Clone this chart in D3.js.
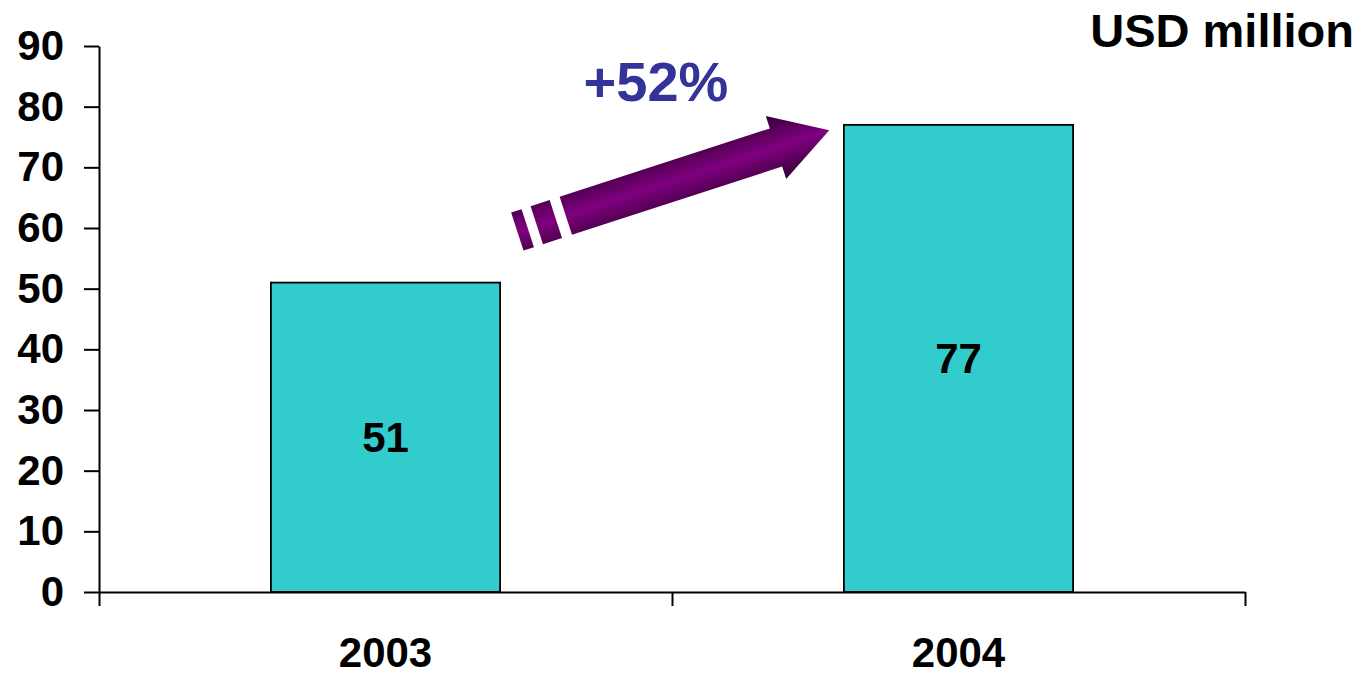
<!DOCTYPE html>
<html>
<head>
<meta charset="utf-8">
<script src="https://cdn.jsdelivr.net/npm/d3@7/dist/d3.min.js"></script>
<style>
  html, body { margin: 0; padding: 0; background: #ffffff; }
  svg { display: block; font-family: "Liberation Sans", Arial, Helvetica, sans-serif; }
</style>
</head>
<body>
<svg id="chart" width="1359" height="675"></svg>
<script>
// Revenue by year, USD million
const years = ["2003", "2004"];
const revenue = [51, 77];
const yTicks = [0, 10, 20, 30, 40, 50, 60, 70, 80, 90];
const unitLabel = "USD million";
const growthLabel = "+52%";

const svg = d3.select("#chart");
const plot = { left: 99, right: 1245, top: 46, bottom: 592 };

const y = d3.scaleLinear().domain([0, 90]).range([plot.bottom, plot.top]);
const x = d3.scaleBand().domain(years).range([plot.left, plot.right]).padding(0);
const edges = d3.scaleLinear().domain([0, years.length]).range([plot.left, plot.right]);
const barFrac = 0.4;

const rows = years.map((yr, i) => ({ yr, v: revenue[i] }));

// bars
const barW = x.bandwidth() * barFrac;
svg.append("g").selectAll("rect")
  .data(rows)
  .join("rect")
  .attr("x", d => x(d.yr) + (x.bandwidth() - barW) / 2)
  .attr("y", d => y(d.v))
  .attr("width", barW)
  .attr("height", d => y(0) - y(d.v))
  .attr("fill", "#33CCCC")
  .attr("stroke", "#000")
  .attr("stroke-width", 1.8);

// value labels centred in each bar
svg.append("g").selectAll("text")
  .data(rows)
  .join("text")
  .attr("x", d => x(d.yr) + x.bandwidth() / 2)
  .attr("y", d => (y(d.v) + y(0)) / 2)
  .attr("dy", "0.35em")
  .attr("text-anchor", "middle")
  .attr("font-size", 42)
  .attr("font-weight", "bold")
  .attr("fill", "#000")
  .text(d => d.v);

// y axis
const yAxis = svg.append("g")
  .attr("transform", `translate(${plot.left},0)`)
  .call(d3.axisLeft(y).tickValues(yTicks).tickSize(15).tickPadding(20).tickSizeOuter(0));
yAxis.selectAll("text")
  .attr("font-size", 42).attr("font-weight", "bold").attr("fill", "#000")
  .attr("font-family", "Liberation Sans, Arial, sans-serif");
yAxis.selectAll("line, path").attr("stroke", "#000").attr("stroke-width", 2);

// x axis baseline with ticks at category boundaries
const xEdgeAxis = svg.append("g")
  .attr("transform", `translate(0,${plot.bottom})`)
  .call(d3.axisBottom(edges).tickValues(d3.range(years.length + 1)).tickFormat("").tickSize(14).tickSizeOuter(0));
xEdgeAxis.selectAll("line, path").attr("stroke", "#000").attr("stroke-width", 2);

// category labels
const xAxis = svg.append("g")
  .attr("transform", `translate(0,${plot.bottom})`)
  .call(d3.axisBottom(x).tickSize(0).tickPadding(45));
xAxis.select(".domain").remove();
xAxis.selectAll("text")
  .attr("font-size", 42).attr("font-weight", "bold").attr("fill", "#000")
  .attr("font-family", "Liberation Sans, Arial, sans-serif");

// unit label
svg.append("text")
  .attr("x", 1354).attr("y", 47)
  .attr("text-anchor", "end")
  .attr("font-size", 47).attr("font-weight", "bold").attr("fill", "#000")
  .text(unitLabel);

// growth arrow with purple shading across its width
const defs = svg.append("defs");
const grad = defs.append("linearGradient")
  .attr("id", "arrowShade")
  .attr("gradientUnits", "userSpaceOnUse")
  .attr("x1", 0).attr("y1", -34).attr("x2", 0).attr("y2", 34);
grad.append("stop").attr("offset", "0%").attr("stop-color", "#330033");
grad.append("stop").attr("offset", "50%").attr("stop-color", "#800080");
grad.append("stop").attr("offset", "100%").attr("stop-color", "#330033");

const arrow = svg.append("g")
  .attr("transform", "translate(565.8,215.8) rotate(-18)");
arrow.append("path")
  .attr("d", "M0,-20 L221,-20 L221,-33 L277,0 L221,33 L221,20 L0,20 Z")
  .attr("fill", "url(#arrowShade)");
arrow.append("rect").attr("x", -30.5).attr("y", -20).attr("width", 20).attr("height", 40)
  .attr("fill", "url(#arrowShade)");
arrow.append("rect").attr("x", -51).attr("y", -20).attr("width", 11).attr("height", 40)
  .attr("fill", "url(#arrowShade)");

// growth label
svg.append("text")
  .attr("x", 656).attr("y", 101)
  .attr("text-anchor", "middle")
  .attr("font-size", 56).attr("font-weight", "bold").attr("fill", "#333399")
  .text(growthLabel);
</script>
</body>
</html>
